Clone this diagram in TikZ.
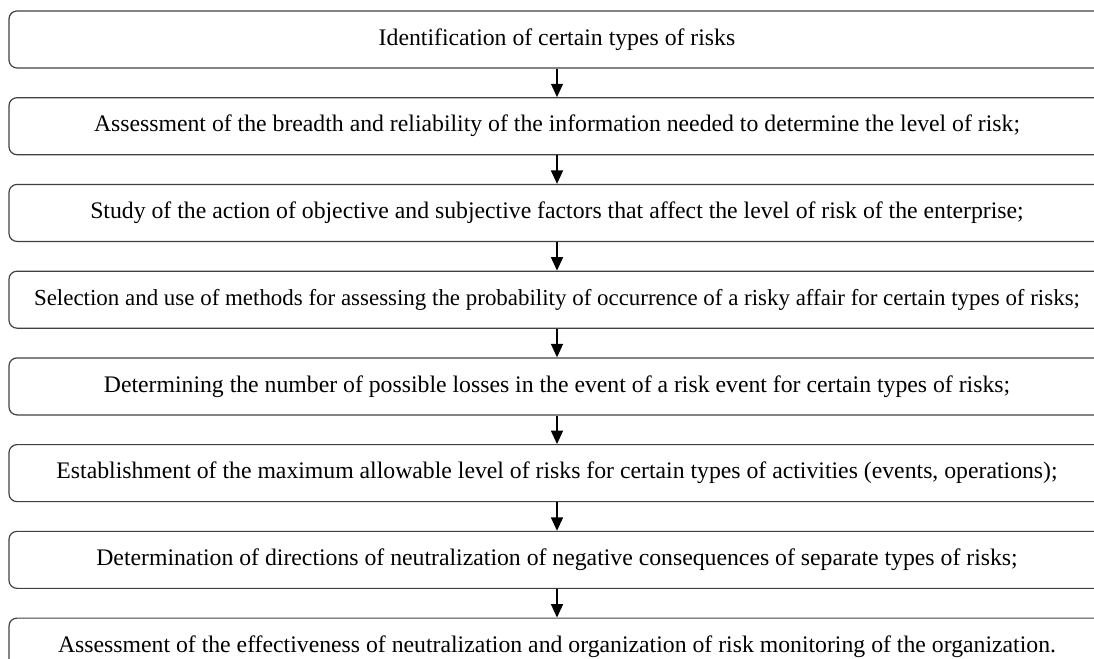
\documentclass[tikz,border=0pt]{standalone}
\usepackage{fontspec}
\setmainfont{Liberation Serif}
\usetikzlibrary{positioning,arrows.meta}
\newcommand{\StepGap}{21.4pt}

\tikzset{
  stepbox/.style={draw=black!75, line width=0.9pt, rounded corners=6pt,
    minimum width=822pt, minimum height=42.75pt, inner xsep=0pt,
    align=center, font=\fontsize{17.8}{20}\selectfont},
  steparrow/.style={line width=0.9pt, -{Triangle[width=9pt,length=10pt]}}
}

\begin{document}
\begin{tikzpicture}
		\useasboundingbox (0,0) rectangle (820.5pt,-494.25pt);
		\node[stepbox] (s1) at (417.75pt,-29.6pt) {Identification of certain types of risks};
		\node[stepbox, below=\StepGap of s1] (s2) {Assessment of the breadth and reliability of the information needed to determine the level of risk;};
		\node[stepbox, below=\StepGap of s2] (s3) {Study of the action of objective and subjective factors that affect the level of risk of the enterprise;};
		\node[stepbox, below=\StepGap of s3, font=\fontsize{17.2}{20}\selectfont] (s4) {Selection and use of methods for assessing the probability of occurrence of a risky affair for certain types of risks;};
		\node[stepbox, below=\StepGap of s4] (s5) {Determining the number of possible losses in the event of a risk event for certain types of risks;};
		\node[stepbox, below=\StepGap of s5] (s6) {Establishment of the maximum allowable level of risks for certain types of activities (events, operations);};
		\node[stepbox, below=\StepGap of s6] (s7) {Determination of directions of neutralization of negative consequences of separate types of risks;};
		\node[stepbox, below=\StepGap of s7] (s8) {Assessment of the effectiveness of neutralization and organization of risk monitoring of the organization.};

		\foreach \a/\b in {s1/s2,s2/s3,s3/s4,s4/s5,s5/s6,s6/s7,s7/s8}
			\draw[steparrow] (\a.south) -- (\b.north);
	\end{tikzpicture}
\end{document}
